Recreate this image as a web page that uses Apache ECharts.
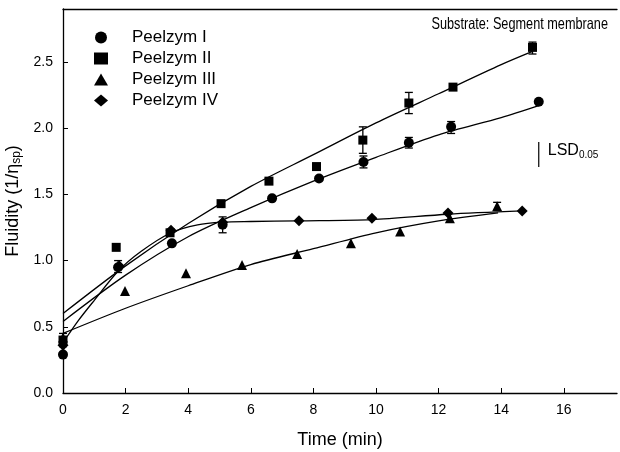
<!DOCTYPE html>
<html lang="en">
<head>
    <meta charset="UTF-8">
    <title>Fluidity</title>
    <script src="https://cdn.jsdelivr.net/npm/echarts@6/dist/echarts.min.js"></script>
</head>
<body style="margin: 0; background: #fff;">
<div id="container" style="width: 620px; height: 452px;"></div>
<script type="text/javascript">

    // measured points [time, fluidity]
    let peelzymI = [[0, 0.29], [1.76, 0.95], [3.48, 1.13], [5.1, 1.27], [6.68, 1.47], [8.18, 1.62], [9.6, 1.745], [11.05, 1.89], [12.4, 2.01], [15.2, 2.2]];
    let peelzymII = [[0, 0.40], [1.7, 1.10], [3.42, 1.21], [5.05, 1.43], [6.58, 1.60], [8.1, 1.71], [9.58, 1.91], [11.05, 2.19], [12.46, 2.31], [15.0, 2.61]];
    let peelzymIII = [[0, 0.42], [1.98, 0.77], [3.93, 0.905], [5.72, 0.967], [7.48, 1.05], [9.2, 1.13], [10.77, 1.22], [12.36, 1.32], [13.87, 1.41]];
    let peelzymIV = [[0, 0.36], [1.8, 0.96], [3.45, 1.23], [5.1, 1.29], [7.54, 1.30], [9.87, 1.32], [12.3, 1.36], [14.67, 1.375]];

    // fitted curves
    let fitI = [[0, 0.54], [2, 0.89], [4, 1.18], [6, 1.40], [8, 1.60], [10, 1.78], [12, 1.95], [14, 2.08], [15.2, 2.17]];
    let fitII = [[0, 0.60], [2, 0.96], [4, 1.28], [6, 1.56], [8, 1.80], [10, 2.04], [12, 2.26], [14, 2.48], [15, 2.58]];
    let fitIII = [[0, 0.45], [2, 0.64], [4, 0.81], [6, 0.97], [8, 1.09], [10, 1.21], [12, 1.30], [13.9, 1.36]];
    let fitIV = [[0, 0.38], [0.5, 0.55], [1, 0.70], [1.76, 0.92], [2.5, 1.07], [3.45, 1.21], [4.3, 1.27], [5.1, 1.29], [6, 1.295], [7.5, 1.30], [9.87, 1.31], [12.3, 1.35], [14.67, 1.375]];

    // error bars [time, low, high]
    let errorBars = [[0, 0.35, 0.45], [1.76, 0.91, 1.00], [5.1, 1.21, 1.33], [9.6, 1.70, 1.79], [11.05, 1.85, 1.93], [12.4, 1.96, 2.05],
        [9.58, 1.81, 2.01], [11.05, 2.11, 2.27], [15.0, 2.56, 2.65], [13.87, 1.38, 1.44]];
    // LSD 0.05 bar [time, low, high]
    let lsdBar = [[15.2, 1.707, 1.896]];

    let names = ['Peelzym I', 'Peelzym II', 'Peelzym III', 'Peelzym IV'];

    let font = '"Liberation Sans", Arial, sans-serif';
    let black = '#000';

    let dom = document.getElementById("container");
    let myChart = echarts.init(dom);

    function fitLine(data) {
        return {
            type: 'line',
            data: data,
            smooth: 0.3,
            symbol: 'none',
            silent: true,
            lineStyle: {color: black, width: 1.3},
            z: 2
        };
    }

    function dots(name, data, symbol, size) {
        return {
            type: 'scatter',
            name: name,
            data: data,
            symbol: symbol,
            symbolSize: size,
            itemStyle: {color: black, opacity: 1},
            z: 4
        };
    }

    let option = {
        animation: false,
        grid: {left: 63, right: 3, top: 9, bottom: 59, containLabel: false, outerBoundsMode: 'none'},
        legend: {
            data: names,
            orient: 'vertical',
            left: 89,
            top: 24,
            itemWidth: 14,
            itemHeight: 12,
            itemGap: 4,
            textStyle: {fontFamily: font, fontSize: 17, color: black, lineHeight: 14, padding: [0, 0, 0, 19]}
        },
        xAxis: [{
            type: 'value',
            min: 0,
            max: 17.7,
            interval: 2,
            name: 'Time (min)',
            nameLocation: 'middle',
            nameGap: 38,
            nameTextStyle: {fontFamily: font, fontSize: 18, color: black},
            axisLine: {lineStyle: {color: black, width: 1.3}},
            axisTick: {inside: true, length: 5, lineStyle: {color: black}},
            axisLabel: {fontFamily: font, fontSize: 14, color: black, margin: 10, showMaxLabel: false},
            splitLine: {show: false}
        }, {
            type: 'value',
            position: 'top',
            min: 0,
            max: 17.7,
            axisLine: {show: true, onZero: false, lineStyle: {color: black, width: 1.3}},
            axisTick: {show: false},
            axisLabel: {show: false},
            splitLine: {show: false}
        }],
        yAxis: {
            type: 'value',
            min: 0,
            max: 2.9,
            interval: 0.5,
            name: '{a|Fluidity (1/η}{s|sp}{a|)}',
            nameLocation: 'middle',
            nameGap: 36,
            nameTextStyle: {
                rich: {
                    a: {fontFamily: font, fontSize: 18, color: black},
                    s: {fontFamily: font, fontSize: 12, color: black, verticalAlign: 'bottom', padding: [8, 0, 0, 0]}
                }
            },
            axisLine: {show: true, lineStyle: {color: black, width: 1.3}},
            axisTick: {show: true, inside: true, length: 5, lineStyle: {color: black}},
            axisLabel: {fontFamily: font, fontSize: 14, color: black, margin: 10, showMaxLabel: false, formatter: function (v) { return v.toFixed(1); }},
            splitLine: {show: false}
        },
        graphic: [{
            type: 'text',
            x: 608,
            y: 24,
            scaleX: 0.77,
            originX: 0,
            style: {
                text: 'Substrate: Segment membrane',
                font: '16.5px ' + font,
                fill: black,
                align: 'right',
                verticalAlign: 'middle'
            }
        }],
        series: [
            fitLine(fitI), fitLine(fitII), fitLine(fitIII), fitLine(fitIV),
            {
                type: 'custom',
                data: errorBars,
                silent: true,
                z: 3,
                encode: {x: 0, y: [1, 2]},
                renderItem: function (params, api) {
                    let x = api.value(0);
                    let lo = api.coord([x, api.value(1)]);
                    let hi = api.coord([x, api.value(2)]);
                    let st = {stroke: black, lineWidth: 1.3};
                    return {
                        type: 'group',
                        children: [
                            {type: 'line', shape: {x1: lo[0], y1: lo[1], x2: hi[0], y2: hi[1]}, style: st},
                            {type: 'line', shape: {x1: lo[0] - 4, y1: lo[1], x2: lo[0] + 4, y2: lo[1]}, style: st},
                            {type: 'line', shape: {x1: hi[0] - 4, y1: hi[1], x2: hi[0] + 4, y2: hi[1]}, style: st}
                        ]
                    };
                }
            },
            {
                type: 'custom',
                data: lsdBar,
                silent: true,
                encode: {x: 0, y: [1, 2]},
                renderItem: function (params, api) {
                    let x = api.value(0);
                    let lo = api.coord([x, api.value(1)]);
                    let hi = api.coord([x, api.value(2)]);
                    return {
                        type: 'group',
                        children: [
                            {type: 'line', shape: {x1: lo[0], y1: lo[1], x2: hi[0], y2: hi[1]}, style: {stroke: black, lineWidth: 1.2}},
                            {
                                type: 'text',
                                x: lo[0] + 9,
                                y: (lo[1] + hi[1]) / 2 - 4,
                                style: {
                                    text: '{a|LSD}{s|0.05}',
                                    verticalAlign: 'middle',
                                    rich: {
                                        a: {fontFamily: font, fontSize: 16, fill: black},
                                        s: {fontFamily: font, fontSize: 10, fill: black, padding: [9, 0, 0, 0]}
                                    }
                                }
                            }
                        ]
                    };
                }
            },
            dots('Peelzym I', peelzymI, 'circle', 10),
            dots('Peelzym II', peelzymII, 'rect', 9),
            dots('Peelzym III', peelzymIII, 'triangle', 10),
            dots('Peelzym IV', peelzymIV, 'diamond', 11)
        ]
    };
    myChart.setOption(option, true);

</script>
</body>
</html>
